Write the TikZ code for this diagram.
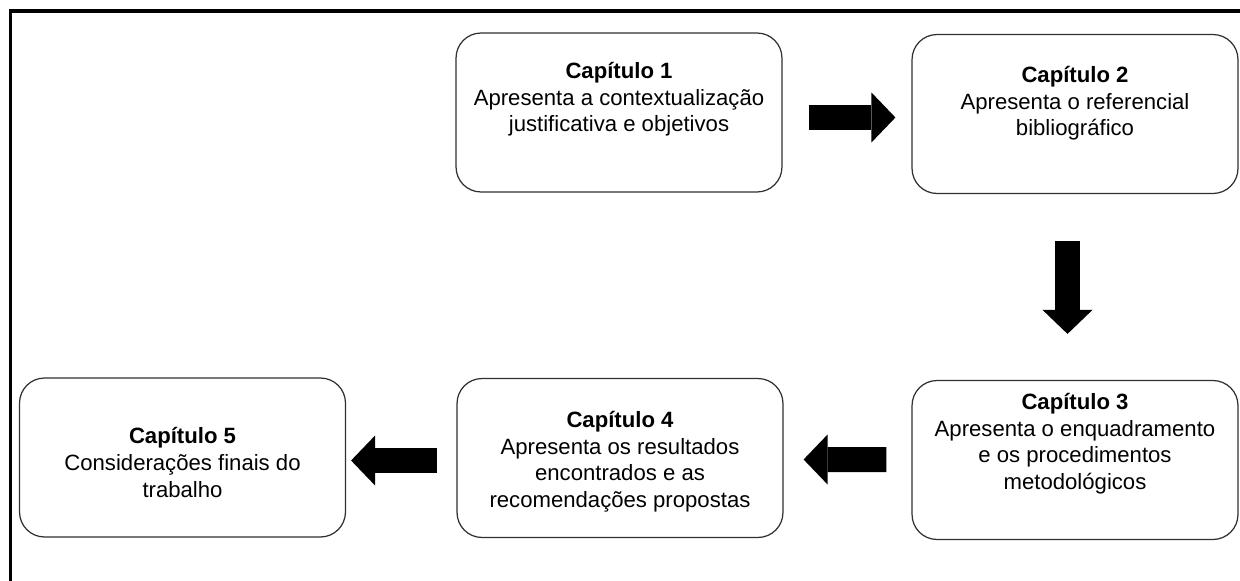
\documentclass[tikz,border=0pt]{standalone}
\usepackage{fontspec}
\setmainfont{Liberation Sans}
\usetikzlibrary{calc,arrows.meta}
\definecolor{ink}{HTML}{000000}
\definecolor{edge}{HTML}{303030}
\tikzset{
  chap/.style={draw=edge, line width=0.7pt, rounded corners=0.5cm, minimum width=6.52cm, minimum height=3.18cm, inner sep=0pt},
  txt/.style={text=ink, align=center, anchor=north, inner sep=0pt, font=\fontsize{12.6}{15.1}\selectfont},
  bigarrow/.style={draw=ink, line width=0.5cm, -{Triangle[length=0.48cm, width=1cm, line width=0pt]}},
  frame/.style={draw=ink, line width=0.08cm},
}

\begin{document}
\begin{tikzpicture}[x=0.02cm,y=-0.02cm]
  \useasboundingbox (0,0) rectangle (1240,581);
  \draw[frame] (10.5,600) -- (10.5,11) -- (1260,11);

  % chapter boxes
  \node[chap] (c1) at (619,112.5) {};
  \node[chap] (c2) at (1075,114) {};
  \node[chap] (c3) at (1075,460) {};
  \node[chap] (c4) at (620,458) {};
  \node[chap] (c5) at (182.5,457.5) {};

  \node[txt] (t1) at ($(c1.north)+(0,29.5)$) {\textbf{Capítulo 1}\\Apresenta a contextualização\\justificativa e objetivos};
  \node[txt] (t2) at ($(c2.north)+(0,32)$) {\textbf{Capítulo 2}\\Apresenta o referencial\\bibliográfico};
  \node[txt] (t3) at ($(c3.north)+(0,13)$) {\textbf{Capítulo 3}\\Apresenta o enquadramento\\e os procedimentos\\metodológicos};
  \node[txt] (t4) at ($(c4.north)+(0,33)$) {\textbf{Capítulo 4}\\Apresenta os resultados\\encontrados e as\\recomendações propostas};
  \node[txt] (t5) at ($(c5.north)+(0,50)$) {\textbf{Capítulo 5}\\Considerações finais do\\trabalho};

  % block arrows
  \draw[bigarrow] ($(c1.east)+(26,5)$) -- ($(c2.west)+(-16,3.5)$);
  \draw[bigarrow] ($(c2.south)+(-7.5,47)$) -- ($(c3.north)+(-7.5,-46)$);
  \draw[bigarrow] ($(c3.west)+(-25,-0.5)$) -- ($(c4.east)+(20,1.5)$);
  \draw[bigarrow] ($(c4.west)+(-19,2.5)$) -- ($(c5.east)+(5,3)$);
\end{tikzpicture}
\end{document}
